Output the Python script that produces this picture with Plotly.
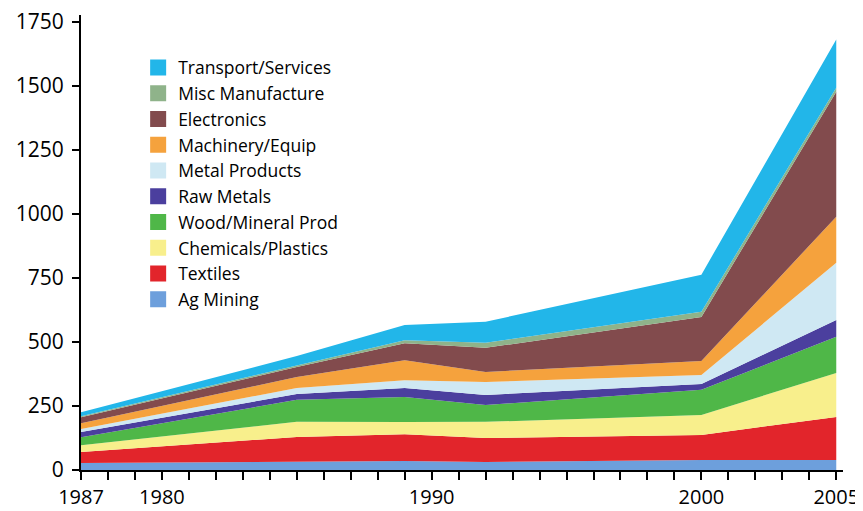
import plotly.graph_objects as go

years = [1977, 1985, 1989, 1992, 2000, 2005]

ag_mining = [27, 31, 35, 31, 39, 39]
textiles = [43, 98, 105, 94, 98, 168]
chemicals_plastics = [27, 59, 47, 63, 78, 172]
wood_mineral = [31, 86, 98, 66, 98, 141]
raw_metals = [20, 23, 35, 39, 23, 66]
metal_products = [12, 23, 31, 51, 35, 223]
machinery_equip = [23, 43, 78, 39, 55, 180]
electronics = [23, 39, 66, 94, 172, 488]
misc_manufacture = [4, 8, 12, 20, 20, 16]
transport_services = [16, 35, 59, 82, 145, 188]

series_names = ["Ag Mining", "Textiles", "Chemicals/Plastics", "Wood/Mineral Prod",
                "Raw Metals", "Metal Products", "Machinery/Equip", "Electronics",
                "Misc Manufacture", "Transport/Services"]
series_values = [ag_mining, textiles, chemicals_plastics, wood_mineral, raw_metals,
                 metal_products, machinery_equip, electronics, misc_manufacture,
                 transport_services]
colors = ["#6d9fdc", "#e2252b", "#f8ef8c", "#4fb748", "#4b3f9e",
          "#cfe8f3", "#f5a23d", "#824b4d", "#8fb38a", "#22b6e9"]

tick_years = list(range(1977, 2006))
tick_labels = {1977: "1987", 1980: "1980", 1990: "1990", 2000: "2000", 2005: "2005"}
y_ticks = [0, 250, 500, 750, 1000, 1250, 1500, 1750]

fig = go.Figure()
for name, vals, col in zip(series_names, series_values, colors):
    fig.add_trace(go.Scatter(
        x=years, y=vals, name=name, stackgroup="one", mode="lines",
        line=dict(width=0, color=col), fillcolor=col, showlegend=False,
        hoverinfo="skip"))
n = len(series_names)
for i, (name, col) in enumerate(zip(series_names, colors)):
    fig.add_trace(go.Scatter(
        x=[None], y=[None], name=name, mode="markers", legendrank=n - i,
        marker=dict(symbol="square", size=16, color=col, line=dict(width=0))))

font_family = "Open Sans, Liberation Sans, sans-serif"
fig.update_layout(
    width=863, height=503,
    margin=dict(l=73, r=28, t=7, b=41),
    paper_bgcolor="white", plot_bgcolor="white",
    showlegend=True,
    legend=dict(x=0.075, y=0.924, xanchor="left", yanchor="top",
                traceorder="normal",
                font=dict(family=font_family, size=17.5, color="black"),
                bgcolor="rgba(0,0,0,0)", itemwidth=30),
    font=dict(family=font_family, color="black"),
)
fig.update_xaxes(
    range=[1977, 2005.25], tickmode="array", tickvals=tick_years,
    ticktext=[tick_labels.get(y, "") for y in tick_years],
    ticks="outside", ticklen=8, tickwidth=2, tickcolor="black",
    showline=True, linecolor="black", linewidth=2, showgrid=False, zeroline=False,
    automargin=False, ticklabeloverflow="allow",
    tickfont=dict(size=20, family=font_family, color="black"))
fig.update_yaxes(
    range=[0, 1777], tickmode="array", tickvals=y_ticks,
    ticktext=[str(v) for v in y_ticks],
    ticks="outside", ticklen=7, tickwidth=2, tickcolor="black",
    showline=True, linecolor="black", linewidth=2, showgrid=False, zeroline=False,
    automargin=False, ticklabelstandoff=4, ticklabeloverflow="allow",
    tickfont=dict(size=21, family=font_family, color="black"))

fig.write_html("out.html")
